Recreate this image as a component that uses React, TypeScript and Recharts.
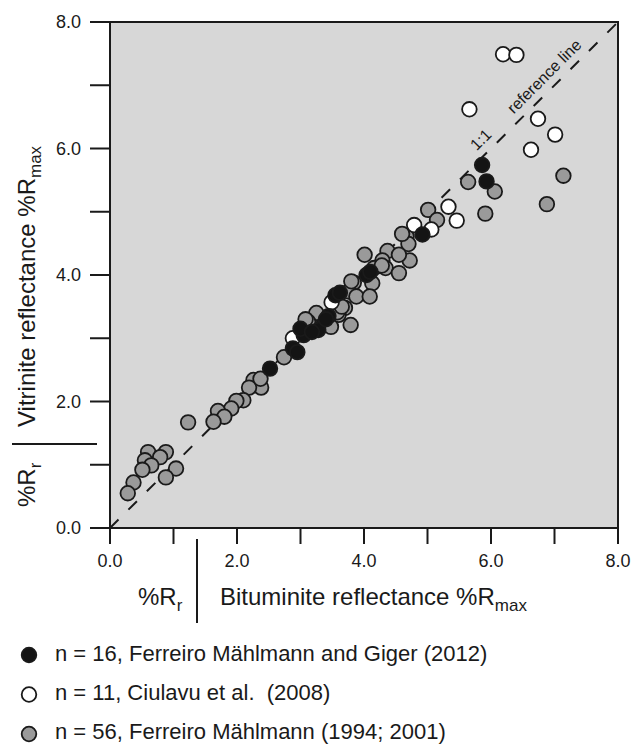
import {
  ScatterChart,
  Scatter,
  XAxis,
  YAxis,
  ReferenceArea,
  ReferenceLine,
  ReferenceDot,
} from 'recharts'

// %R values: [bituminite Rmax, vitrinite Rmax]
const gigerPoints = [
  [5.86, 5.74], [5.93, 5.48], [4.92, 4.64], [4.04, 4.0], [3.55, 3.68],
  [3.44, 3.35], [3.28, 3.13], [3.05, 3.05], [3.0, 3.15], [2.88, 2.84],
  [2.52, 2.52], [3.4, 3.3], [3.18, 3.1], [4.1, 4.05], [3.62, 3.72],
  [2.95, 2.78],
]

const ciulavuPoints = [
  [6.19, 7.49], [6.4, 7.48], [5.66, 6.62], [6.74, 6.47], [7.01, 6.22],
  [6.63, 5.98], [5.33, 5.08], [5.46, 4.86], [4.79, 4.79], [5.06, 4.72],
  [3.49, 3.57], [2.88, 3.0],
]

const mahlmannPoints = [
  [7.14, 5.57], [6.88, 5.12], [5.91, 4.97], [6.06, 5.32], [5.64, 5.47],
  [5.01, 5.03], [5.15, 4.87], [4.67, 4.61], [4.7, 4.49], [4.72, 4.23],
  [4.37, 4.38], [4.55, 4.32], [4.01, 4.32], [4.29, 4.23], [4.34, 4.11],
  [4.55, 4.03], [4.16, 4.11], [4.13, 3.87], [3.84, 3.88], [3.76, 3.74],
  [3.88, 3.66], [4.09, 3.66], [3.79, 3.21], [3.7, 3.48], [3.6, 3.37],
  [3.48, 3.18], [3.25, 3.4], [3.12, 3.26], [2.74, 2.7], [2.26, 2.34],
  [2.38, 2.22], [2.19, 2.22], [2.1, 2.02], [1.99, 2.01], [1.91, 1.89],
  [1.7, 1.85], [1.8, 1.76], [1.63, 1.68], [1.23, 1.67], [0.6, 1.2],
  [0.88, 1.2], [0.79, 1.12], [0.55, 1.07], [0.65, 0.99], [0.51, 0.92],
  [1.04, 0.94], [0.88, 0.8], [0.37, 0.72], [0.28, 0.55], [4.6, 4.65],
  [3.8, 3.9], [3.58, 3.41], [3.08, 3.3], [2.37, 2.36], [4.28, 4.15],
  [3.65, 3.5],
]

const axisTicks = [0, 1, 2, 3, 4, 5, 6, 7, 8]

const legendItems = [
  { label: 'n = 16, Ferreiro Mählmann and Giger (2012)', fill: '#141414' },
  { label: 'n = 11, Ciulavu et al.  (2008)', fill: '#ffffff' },
  { label: 'n = 56, Ferreiro Mählmann (1994; 2001)', fill: '#9a9a9a' },
]

const FONT = '"Liberation Sans", Arial, Helvetica, sans-serif'
const INK = '#1a1a1a'

const toXY = (pts: number[][]) => pts.map(([x, y]) => ({ x, y }))

const dot = (fill: string) => (props: any) => (
  <circle
    cx={props.cx}
    cy={props.cy}
    r={7.3}
    fill={fill}
    stroke={INK}
    strokeWidth={1.8}
  />
)

const fmt = (v: number) => (v % 2 === 0 ? v.toFixed(1) : '')

const lineText = (text: string) => (props: any) => (
  <text
    x={props.cx}
    y={props.cy}
    transform={`rotate(-45 ${props.cx} ${props.cy})`}
    textAnchor='middle'
    fontSize={16}
    fontFamily={FONT}
    fill={INK}
  >
    {text}
  </text>
)

export default function App() {
  return (
    <div style={{ position: 'absolute', left: 0, top: 0, width: 632, height: 744, background: '#fff' }}>
      <ScatterChart
        width={632}
        height={744}
        margin={{ top: 22, right: 14, left: 50, bottom: 176 }}
      >
        <ReferenceArea
          x1={0}
          x2={8}
          y1={0}
          y2={8}
          fill='#d7d7d7'
          fillOpacity={1}
          stroke={INK}
          strokeWidth={2}
        />
        <XAxis
          type='number'
          dataKey='x'
          domain={[0, 8]}
          ticks={axisTicks}
          tickFormatter={fmt}
          height={40}
          tickSize={16}
          tickMargin={10}
          axisLine={{ stroke: INK, strokeWidth: 2 }}
          tickLine={{ stroke: INK, strokeWidth: 2 }}
          tick={{ fill: INK, fontSize: 18, fontFamily: FONT }}
          interval={0}
        />
        <YAxis
          type='number'
          dataKey='y'
          domain={[0, 8]}
          ticks={axisTicks}
          tickFormatter={fmt}
          width={60}
          tickSize={20}
          tickMargin={9}
          axisLine={{ stroke: INK, strokeWidth: 2 }}
          tickLine={{ stroke: INK, strokeWidth: 2 }}
          tick={{ fill: INK, fontSize: 18, fontFamily: FONT }}
          interval={0}
        />
        <ReferenceLine
          segment={[{ x: 0, y: 0 }, { x: 8, y: 8 }]}
          stroke={INK}
          strokeWidth={2}
          strokeDasharray='12 14'
        />
        <ReferenceDot x={5.9} y={6.08} r={0} shape={lineText('1:1')} />
        <ReferenceDot x={6.9} y={7.08} r={0} shape={lineText('reference line')} />
        <Scatter data={toXY(mahlmannPoints)} shape={dot('#9a9a9a')} isAnimationActive={false} />
        <Scatter data={toXY(ciulavuPoints)} shape={dot('#ffffff')} isAnimationActive={false} />
        <Scatter data={toXY(gigerPoints)} shape={dot('#141414')} isAnimationActive={false} />
      </ScatterChart>
      <svg
        width={632}
        height={744}
        style={{ position: 'absolute', left: 0, top: 0, pointerEvents: 'none' }}
        fontFamily={FONT}
        fill={INK}
      >
        {/* y axis title */}
        <text transform='translate(35 427) rotate(-90)' fontSize={24}>
          Vitrinite reflectance %R<tspan dy={6} fontSize={17}>max</tspan>
        </text>
        <line x1={12} x2={97} y1={444} y2={444} stroke={INK} strokeWidth={2} />
        <text transform='translate(35 507) rotate(-90)' fontSize={24}>
          %R<tspan dy={6} fontSize={17}>r</tspan>
        </text>
        {/* x axis title */}
        <text x={220} y={605} fontSize={24}>
          Bituminite reflectance %R<tspan dy={6} fontSize={17}>max</tspan>
        </text>
        <line x1={197} x2={197} y1={539} y2={623} stroke={INK} strokeWidth={2} />
        <text x={138} y={605} fontSize={24}>
          %R<tspan dy={6} fontSize={17}>r</tspan>
        </text>
        {/* legend */}
        {legendItems.map((item, i) => (
          <g key={item.label}>
            <circle cx={29} cy={655 + i * 39.5} r={7.3} fill={item.fill} stroke={INK} strokeWidth={1.8} />
            <text x={55} y={661 + i * 39} fontSize={22} style={{ whiteSpace: 'pre' }}>
              {item.label}
            </text>
          </g>
        ))}
      </svg>
    </div>
  )
}
